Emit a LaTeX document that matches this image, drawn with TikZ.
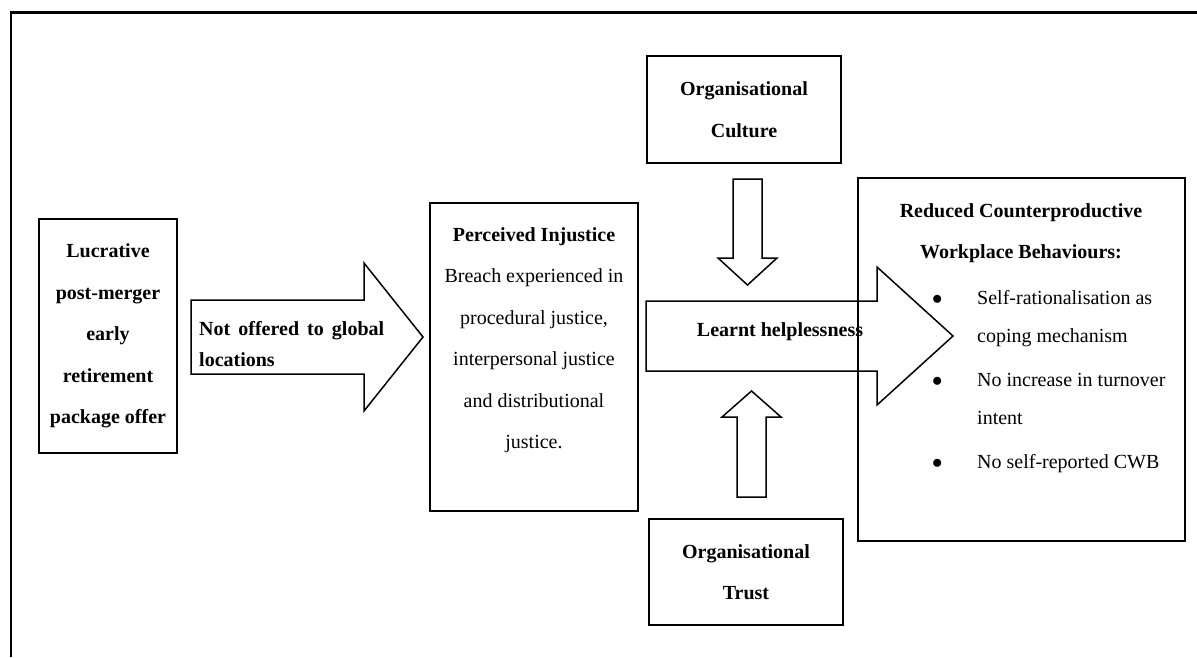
\documentclass[tikz,border=0pt]{standalone}
\usepackage{fontspec}
\setmainfont{Liberation Serif}
\usetikzlibrary{positioning}

\newcommand{\cwbdot}{\makebox[44pt][l]{\hspace*{-1pt}$\bullet$}}

\begin{document}
\begin{tikzpicture}[
    x=1pt, y=-1pt,
    bodytext/.style={font=\fontsize{20}{41.5}\selectfont},
    headtext/.style={font=\fontsize{20}{41.5}\selectfont\bfseries},
    box/.style={rectangle, draw=black, line width=1.6pt, align=center, inner sep=0pt},
    blockarrow/.style={draw=black, line width=1.5pt, line join=miter}
]
    \useasboundingbox (0,0) rectangle (1197,657);

    % Outer frame (only top and left edges show)
    \draw[line width=2.2pt] (11,657) -- (11,12.5) -- (1197,12.5);

    % Boxes
    \node[box, headtext, minimum width=138pt, minimum height=234pt] (offer) at (108,336)
        {Lucrative\\post-merger\\early\\retirement\\package offer};
    \node[box, minimum width=208pt, minimum height=308pt] (injustice) at (534,357) {};
    \node[box, headtext, minimum width=194pt, minimum height=107pt] (culture) at (744,109.5)
        {Organisational\\Culture};
    \node[box, headtext, minimum width=194pt, minimum height=106pt] (trust) at (746,572)
        {Organisational\\Trust};
    \node[box, minimum width=327pt, minimum height=363pt] (cwb) at (1021.5,359.5) {};

    % Box texts
    \node[bodytext, anchor=north, align=center, inner sep=0pt] (injtext) at (534,227)
        {\textbf{Perceived Injustice}\\Breach experienced in\\procedural justice,\\interpersonal justice\\and distributional\\justice.};
    \node[headtext, anchor=north, align=center, inner sep=0pt] (cwbhead) at (1021,203)
        {Reduced Counterproductive\\Workplace Behaviours:};
    \node[font=\fontsize{20}{38}\selectfont, anchor=north west, align=left, inner sep=0pt] (cwblist) at (933,290)
        {\cwbdot Self-rationalisation as\\
         \hspace*{44pt}coping mechanism\\[6pt]
         \cwbdot No increase in turnover\\
         \hspace*{44pt}intent\\[6pt]
         \cwbdot No self-reported CWB};

    % Block arrows
    \draw[blockarrow] (191,300) -- (364,300) -- (364,263) -- (423,337)
        -- (364,411) -- (364,374) -- (191,374) -- cycle;
    \draw[blockarrow] (646,301) -- (877,301) -- (877,267) -- (953,336)
        -- (877,405) -- (877,371) -- (646,371) -- cycle;
    \draw[blockarrow] (733,179) -- (762,179) -- (762,258) -- (777,258)
        -- (747.5,285) -- (718,258) -- (733,258) -- cycle;
    \draw[blockarrow] (737,497) -- (766,497) -- (766,417) -- (781,417)
        -- (751.5,391) -- (722,417) -- (737,417) -- cycle;

    % Arrow labels
    \node[font=\fontsize{20}{31.5}\selectfont\bfseries, anchor=north west, text width=185pt,
        align=justify, inner sep=0pt] (notoffered) at (199,321) {Not offered to global locations};
    \node[headtext, inner sep=0pt] (learnt) at (780,332) {Learnt helplessness};

\end{tikzpicture}
\end{document}
